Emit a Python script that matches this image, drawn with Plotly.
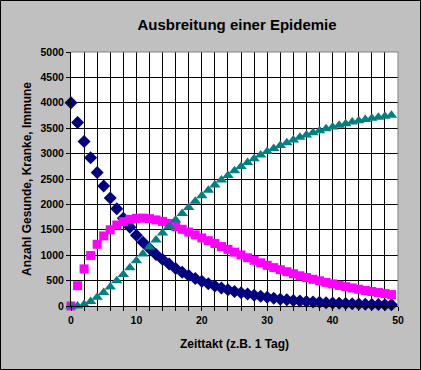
import plotly.graph_objects as go

t = list(range(50))
gesunde = [4000, 3610, 3240, 2920, 2630, 2360, 2125, 1915, 1725, 1550,
           1395, 1255, 1130, 1015, 915, 825, 740, 665, 600, 540,
           485, 440, 395, 355, 320, 285, 260, 235, 210, 190,
           170, 155, 135, 125, 110, 100, 90, 80, 75, 65,
           60, 55, 50, 45, 40, 35, 30, 30, 25, 25]
kranke = [0, 400, 730, 995, 1215, 1380, 1500, 1595, 1660, 1705,
          1725, 1730, 1720, 1695, 1665, 1625, 1565, 1510, 1455, 1400,
          1340, 1285, 1230, 1170, 1115, 1060, 1005, 950, 900, 850,
          800, 755, 715, 675, 635, 595, 560, 525, 495, 465,
          435, 405, 380, 355, 330, 305, 285, 265, 245, 225]
immune = [0, 0, 30, 90, 170, 265, 375, 495, 620, 755,
          890, 1025, 1160, 1300, 1435, 1565, 1695, 1820, 1940, 2060,
          2170, 2280, 2380, 2480, 2570, 2660, 2745, 2825, 2900, 2970,
          3040, 3100, 3160, 3215, 3270, 3320, 3365, 3410, 3450, 3490,
          3525, 3560, 3590, 3620, 3645, 3670, 3695, 3715, 3735, 3755]

x_ticks = [0, 10, 20, 30, 40, 50]
y_ticks = [0, 500, 1000, 1500, 2000, 2500, 3000, 3500, 4000, 4500, 5000]

FONT = "Arial, 'Liberation Sans', sans-serif"

fig = go.Figure()
fig.add_trace(go.Scatter(x=t, y=gesunde, mode="markers", name="Gesunde",
                         marker=dict(symbol="diamond", size=10, color="#000080", line=dict(width=0)),
                         cliponaxis=False))
fig.add_trace(go.Scatter(x=t, y=kranke, mode="markers", name="Kranke",
                         marker=dict(symbol="square", size=9, color="#FF00FF", line=dict(width=0)),
                         cliponaxis=False))
fig.add_trace(go.Scatter(x=t, y=immune, mode="markers", name="Immune",
                         marker=dict(symbol="triangle-up", size=10, color="#008080", line=dict(width=0)),
                         cliponaxis=False))

L, R, T, B = 71, 23, 52, 64
W, H = 421, 370
pw, ph = W - L - R, H - T - B

fig.update_layout(
    width=W, height=H,
    margin=dict(l=L, r=R, t=T, b=B, pad=0),
    paper_bgcolor="#C0C0C0", plot_bgcolor="#FFFFFF",
    showlegend=False,
    font=dict(family=FONT, color="#000000"),
    title=dict(text="<b>Ausbreitung einer Epidemie</b>", x=237 / W, xanchor="center",
               y=1 - 25 / H, yanchor="middle", font=dict(size=15, family=FONT)),
    xaxis=dict(range=[0, 50], tickvals=x_ticks, showgrid=True, gridcolor="#000000", gridwidth=1,
               zeroline=False, showline=True, linecolor="#000000", linewidth=1,
               ticks="outside", ticklen=4, tickcolor="#000000",
               tickfont=dict(size=10.5, family=FONT, weight="bold"), automargin=False,
               minor=dict(dtick=2, showgrid=True, gridcolor="#000000", gridwidth=1,
                          ticks="outside", ticklen=4, tickcolor="#000000"),
               fixedrange=True),
    yaxis=dict(range=[0, 5000], tickvals=y_ticks, showgrid=True, gridcolor="#000000", gridwidth=1,
               zeroline=False, showline=True, linecolor="#000000", linewidth=1,
               ticks="outside", ticklen=4, tickcolor="#000000", automargin=False,
               tickfont=dict(size=10.5, family=FONT, weight="bold"), fixedrange=True),
    annotations=[
        dict(text="<b>Zeittakt (z.B. 1 Tag)</b>", xref="paper", yref="paper",
             x=0.5, y=-(344 - (T + ph)) / ph, xanchor="center", yanchor="middle",
             showarrow=False, font=dict(size=12, family=FONT)),
        dict(text="<b>Anzahl Gesunde, Kranke, Immune</b>", xref="paper", yref="paper",
             x=(27 - L) / pw, y=0.5, xanchor="center", yanchor="middle", textangle=-90,
             showarrow=False, font=dict(size=12, family=FONT)),
    ],
    shapes=[
        dict(type="line", xref="paper", yref="paper", x0=0, x1=1, y0=1, y1=1,
             line=dict(color="#808080", width=1), layer="above"),
        dict(type="line", xref="paper", yref="paper", x0=1, x1=1, y0=0, y1=1,
             line=dict(color="#808080", width=1), layer="above"),
        dict(type="rect", xref="paper", yref="paper",
             x0=(0.5 - L) / pw, x1=(W - 0.5 - L) / pw,
             y0=-(B - 0.5) / ph, y1=1 + (T - 0.5) / ph,
             line=dict(color="#000000", width=1), fillcolor="rgba(0,0,0,0)", layer="above"),
    ],
)

fig.write_html("out.html", config={"displayModeBar": False},
               post_script="document.body.style.margin='0';document.body.style.padding='0';")
